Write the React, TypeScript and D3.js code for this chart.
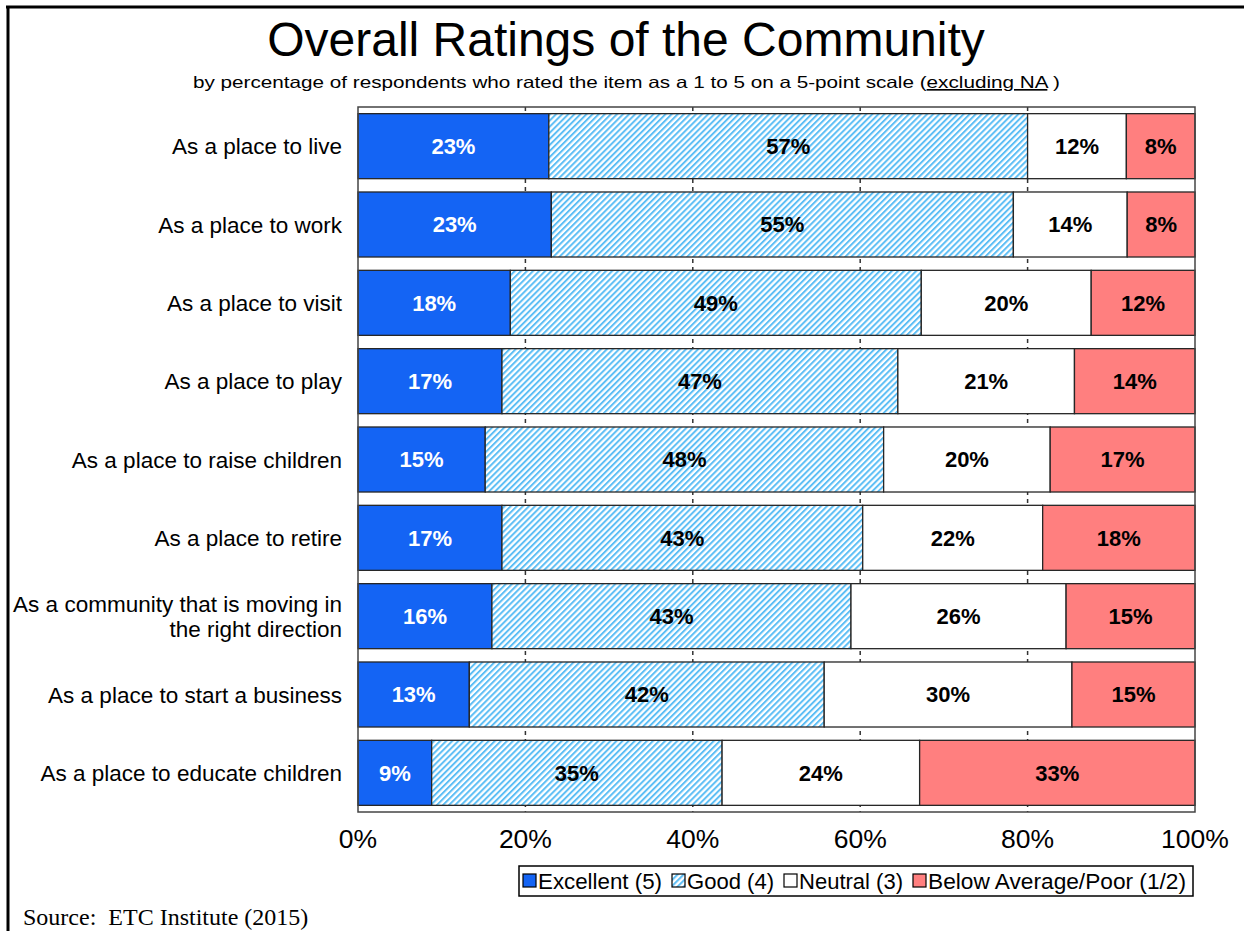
import React from "react";
import * as d3 from "d3";

const categories = [
  "As a place to live",
  "As a place to work",
  "As a place to visit",
  "As a place to play",
  "As a place to raise children",
  "As a place to retire",
  "As a community that is moving in|the right direction",
  "As a place to start a business",
  "As a place to educate children",
];
const excellent = [22.8, 23.1, 18.2, 17.2, 15.2, 17.2, 16.0, 13.3, 8.8];
const good = [57.2, 55.2, 49.1, 47.3, 47.6, 43.1, 42.9, 42.4, 34.7];
const neutral = [11.8, 13.6, 20.3, 21.1, 19.9, 21.5, 25.7, 29.6, 23.6];
const poor = [8.2, 8.1, 12.4, 14.4, 17.3, 18.2, 15.4, 14.7, 32.9];
const seriesNames = ["Excellent (5)", "Good (4)", "Neutral (3)", "Below Average/Poor (1/2)"];
const ticks = [0, 20, 40, 60, 80, 100];

const W = 1244;
const H = 931;
const plot = { left: 358, right: 1195, top: 107, bottom: 812 };
const FONT = "Arial, 'Liberation Sans', sans-serif";

const fills = ["#1464F4", "url(#hatch)", "#FFFFFF", "#FF7F7F"];
const textColors = ["#FFFFFF", "#000000", "#000000", "#000000"];

export default function App() {
  const x = d3.scaleLinear().domain([0, 100]).range([plot.left, plot.right]);
  const y = d3
    .scaleBand<string>()
    .domain(categories)
    .range([plot.top, plot.bottom])
    .paddingInner(0.17)
    .paddingOuter(0.085);

  const rows = categories.map((c, i) => ({ c, vals: [excellent[i], good[i], neutral[i], poor[i]] }));
  const stacked = rows.map((r) => {
    let acc = 0;
    return r.vals.map((v, k) => {
      const s = { x0: acc, x1: acc + v, v, k };
      acc += v;
      return s;
    });
  });

  // legend layout
  const legendFont = 22;
  const legendTextWidths = [124, 87, 104, 258];
  const legendX0 = 519;
  let lx = legendX0 + 4;
  const legendItems = seriesNames.map((n, k) => {
    const item = { n, k, sx: lx, tx: lx + 15 };
    lx += 15 + legendTextWidths[k] + 10;
    return item;
  });

  return (
    <svg
      width={W}
      height={H}
      style={{ position: "absolute", left: 0, top: 0, background: "#fff" }}
      fontFamily={FONT}
    >
      <defs>
        <pattern id="hatch" patternUnits="userSpaceOnUse" width={4.3} height={10} patternTransform="rotate(45)">
          <rect width={4.3} height={10} fill="#FFFFFF" />
          <rect width={2} height={10} fill="#5CBEF5" />
        </pattern>
      </defs>
      <rect x={0} y={0} width={W} height={H} fill="#fff" />
      {/* outer frame (top and left) */}
      <line x1={6} y1={7} x2={W} y2={7} stroke="#000" strokeWidth={3} />
      <line x1={8} y1={6} x2={8} y2={H} stroke="#000" strokeWidth={3} />

      {/* title */}
      <text x={626} y={56} textAnchor="middle" fontSize={48} fill="#000">
        Overall Ratings of the Community
      </text>
      <text x={193} y={88} fontSize={16.5} fill="#000" textLength={867} lengthAdjust="spacingAndGlyphs">
        by percentage of respondents who rated the item as a 1 to 5 on a 5-point scale (
        <tspan textDecoration="underline">excluding NA</tspan> )
      </text>

      {/* plot background */}
      <rect
        x={plot.left}
        y={plot.top}
        width={plot.right - plot.left}
        height={plot.bottom - plot.top}
        fill="#fff"
      />
      {/* gridlines */}
      {ticks.slice(1, -1).map((t) => (
        <line
          key={t}
          x1={x(t)}
          x2={x(t)}
          y1={plot.top}
          y2={plot.bottom}
          stroke="#333"
          strokeWidth={1.5}
          strokeDasharray="4 4"
        />
      ))}

      {/* bars */}
      {stacked.map((segs, i) => {
        const c = categories[i];
        const by = y(c)!;
        const bh = y.bandwidth();
        return (
          <g key={c}>
            {segs.map((s) => (
              <rect
                key={s.k}
                x={x(s.x0)}
                y={by}
                width={x(s.x1) - x(s.x0)}
                height={bh}
                fill={fills[s.k]}
                stroke="#262626"
                strokeWidth={1.3}
              />
            ))}
            {segs.map((s) => (
              <text
                key={"t" + s.k}
                x={(x(s.x0) + x(s.x1)) / 2}
                y={by + bh / 2}
                dy="0.36em"
                textAnchor="middle"
                fontSize={22}
                fontWeight="bold"
                fill={textColors[s.k]}
              >
                {Math.round(s.v) + "%"}
              </text>
            ))}
          </g>
        );
      })}

      {/* plot frame */}
      <rect
        x={plot.left}
        y={plot.top}
        width={plot.right - plot.left}
        height={plot.bottom - plot.top}
        fill="none"
        stroke="#444"
        strokeWidth={1.5}
      />

      {/* category labels */}
      {categories.map((c) => {
        const lines = c.split("|");
        const cy = y(c)! + y.bandwidth() / 2;
        const lh = 25;
        return (
          <text key={c} textAnchor="end" fontSize={22.5} fill="#000">
            {lines.map((l, j) => (
              <tspan key={j} x={342} y={cy + (j - (lines.length - 1) / 2) * lh} dy="0.36em">
                {l}
              </tspan>
            ))}
          </text>
        );
      })}

      {/* x tick labels */}
      {ticks.map((t) => (
        <text key={t} x={x(t)} y={848} textAnchor="middle" fontSize={26.5} fill="#000">
          {t + "%"}
        </text>
      ))}

      {/* legend */}
      <rect x={legendX0} y={866} width={1193 - legendX0} height={30} fill="#fff" stroke="#000" strokeWidth={1.5} />
      {legendItems.map((it) => (
        <g key={it.n}>
          <rect x={it.sx} y={874} width={13} height={13} fill={fills[it.k]} stroke="#000" strokeWidth={1.2} />
          <text x={it.tx} y={889} fontSize={legendFont} fill="#000" textLength={legendTextWidths[it.k]} lengthAdjust="spacingAndGlyphs">
            {it.n}
          </text>
        </g>
      ))}

      {/* source */}
      <text x={23} y={925} fontSize={24} fontFamily="'Times New Roman', 'Liberation Serif', serif" fill="#000" style={{ whiteSpace: "pre" }}>
        {"Source:  ETC Institute (2015)"}
      </text>
    </svg>
  );
}
